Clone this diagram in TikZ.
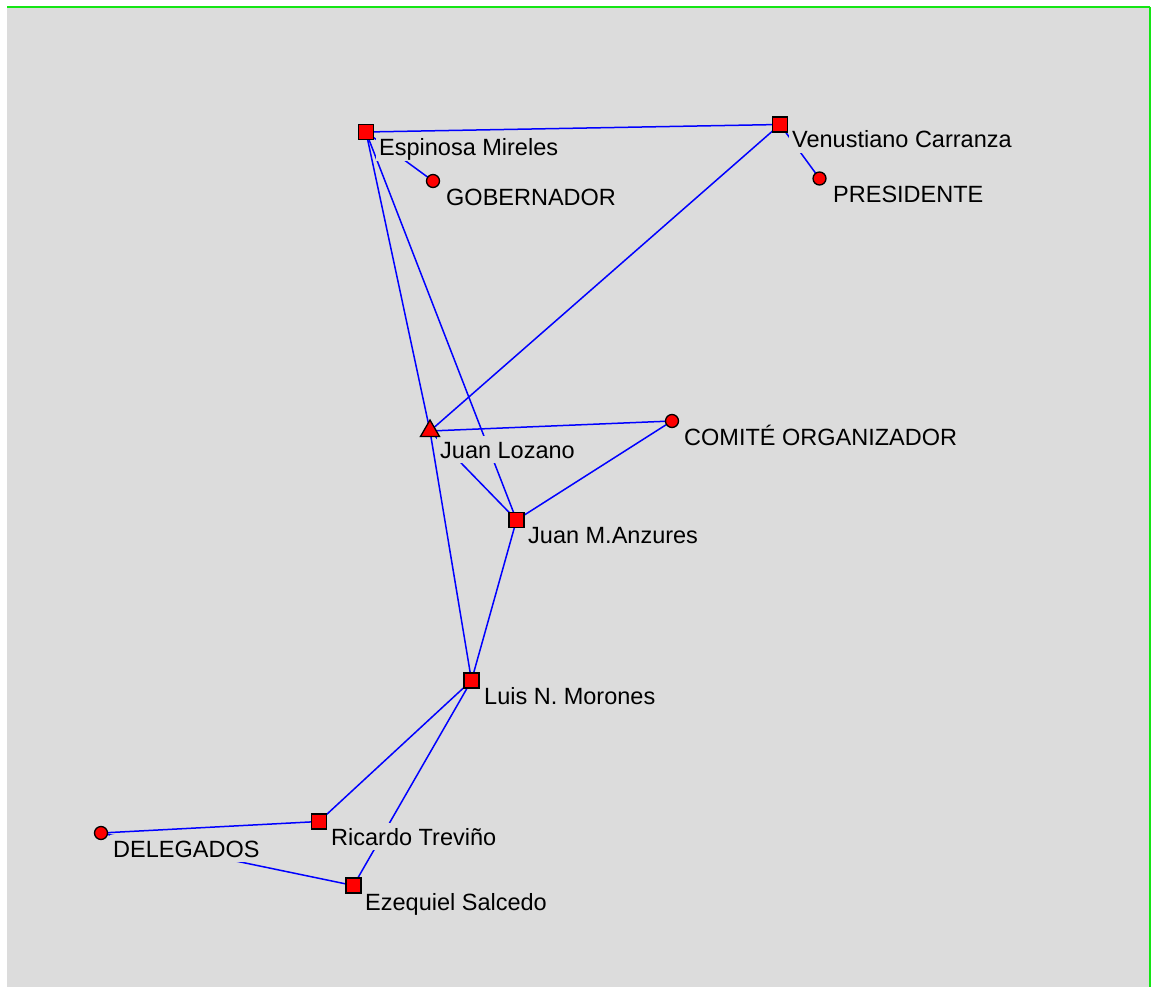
\documentclass[tikz,border=0pt]{standalone}
\usepackage{fontspec}
\setmainfont{Liberation Sans}
\usetikzlibrary{shapes.geometric}
\definecolor{bg}{RGB}{220,220,220}
\definecolor{edgeblue}{RGB}{0,0,255}
\definecolor{nodered}{RGB}{255,0,0}
\definecolor{framegreen}{RGB}{20,230,20}
\pgfdeclarelayer{back}
\pgfdeclarelayer{edges}
\pgfdeclarelayer{labels}
\pgfsetlayers{back,edges,labels,main}
\tikzset{
  sq/.style={draw=black, fill=nodered, rectangle, minimum size=15pt, inner sep=0pt, line width=1.3pt},
  dot/.style={draw=black, fill=nodered, circle, minimum size=13pt, inner sep=0pt, line width=1.3pt},
  tri/.style={draw=black, fill=nodered, regular polygon, regular polygon sides=3, minimum size=22pt, inner sep=0pt, line width=1.3pt},
  lbl/.style={anchor=base west, fill=bg, inner xsep=3pt, inner ysep=0pt, text height=22pt, text depth=5pt, text=black, font=\fontsize{23.5}{26}\selectfont},
  edge/.style={draw=edgeblue, line width=1.5pt}
}
\begin{document}
\begin{tikzpicture}[x=1pt,y=-1pt]
\useasboundingbox (0,0) rectangle (1153,987);
\begin{pgfonlayer}{back}
  \fill[white] (0,0) rectangle (1153,987);
  \fill[bg] (7,7) rectangle (1150,987);
  \draw[framegreen, line width=2pt] (7,7) -- (1150,7);
  \draw[framegreen, line width=2pt] (1150,7) -- (1150,987);
\end{pgfonlayer}
% vertices
\node[sq]  (esp)  at (366,132) {};
\node[dot] (gob)  at (433,181) {};
\node[sq]  (ven)  at (780,124.5) {};
\node[dot] (pres) at (819.5,178.5) {};
\node[tri] (loz)  at (430,431) {};
\node[dot] (com)  at (672,421) {};
\node[sq]  (anz)  at (516.5,520) {};
\node[sq]  (luis) at (471.5,680.5) {};
\node[sq]  (ric)  at (319,821.5) {};
\node[dot] (del)  at (101,833) {};
\node[sq]  (eze)  at (353.5,885.5) {};
% labels
\begin{pgfonlayer}{labels}
  \node[lbl] (lesp)  at (376,156) {Espinosa Mireles};
  \node[lbl] (lgob)  at (443,205) {GOBERNADOR};
  \node[lbl] (lven)  at (789,148) {Venustiano Carranza};
  \node[lbl] (lpres) at (830,202) {PRESIDENTE};
  \node[lbl] (lloz)  at (437,458) {Juan Lozano};
  \node[lbl] (lcom)  at (681,445) {COMITÉ ORGANIZADOR};
  \node[lbl] (lanz)  at (525,543) {Juan M.Anzures};
  \node[lbl] (lluis) at (481,704) {Luis N. Morones};
  \node[lbl] (lric)  at (328,845) {Ricardo Treviño};
  \node[lbl] (ldel)  at (110,857) {DELEGADOS};
  \node[lbl] (leze)  at (362,910) {Ezequiel Salcedo};
\end{pgfonlayer}
% edges
\begin{pgfonlayer}{edges}
  \draw[edge] (esp.center) -- (ven.center);
  \draw[edge] (esp.center) -- (gob.center);
  \draw[edge] (esp.center) -- (loz.center);
  \draw[edge] (esp.center) -- (anz.center);
  \draw[edge] (ven.center) -- (pres.center);
  \draw[edge] (ven.center) -- (loz.center);
  \draw[edge] (loz.center) -- (com.center);
  \draw[edge] (loz.center) -- (anz.center);
  \draw[edge] (com.center) -- (anz.center);
  \draw[edge] (loz.center) -- (luis.center);
  \draw[edge] (anz.center) -- (luis.center);
  \draw[edge] (luis.center) -- (ric.center);
  \draw[edge] (luis.center) -- (eze.center);
  \draw[edge] (ric.center) -- (del.center);
  \draw[edge] (del.center) -- (eze.center);
\end{pgfonlayer}
\end{tikzpicture}
\end{document}
